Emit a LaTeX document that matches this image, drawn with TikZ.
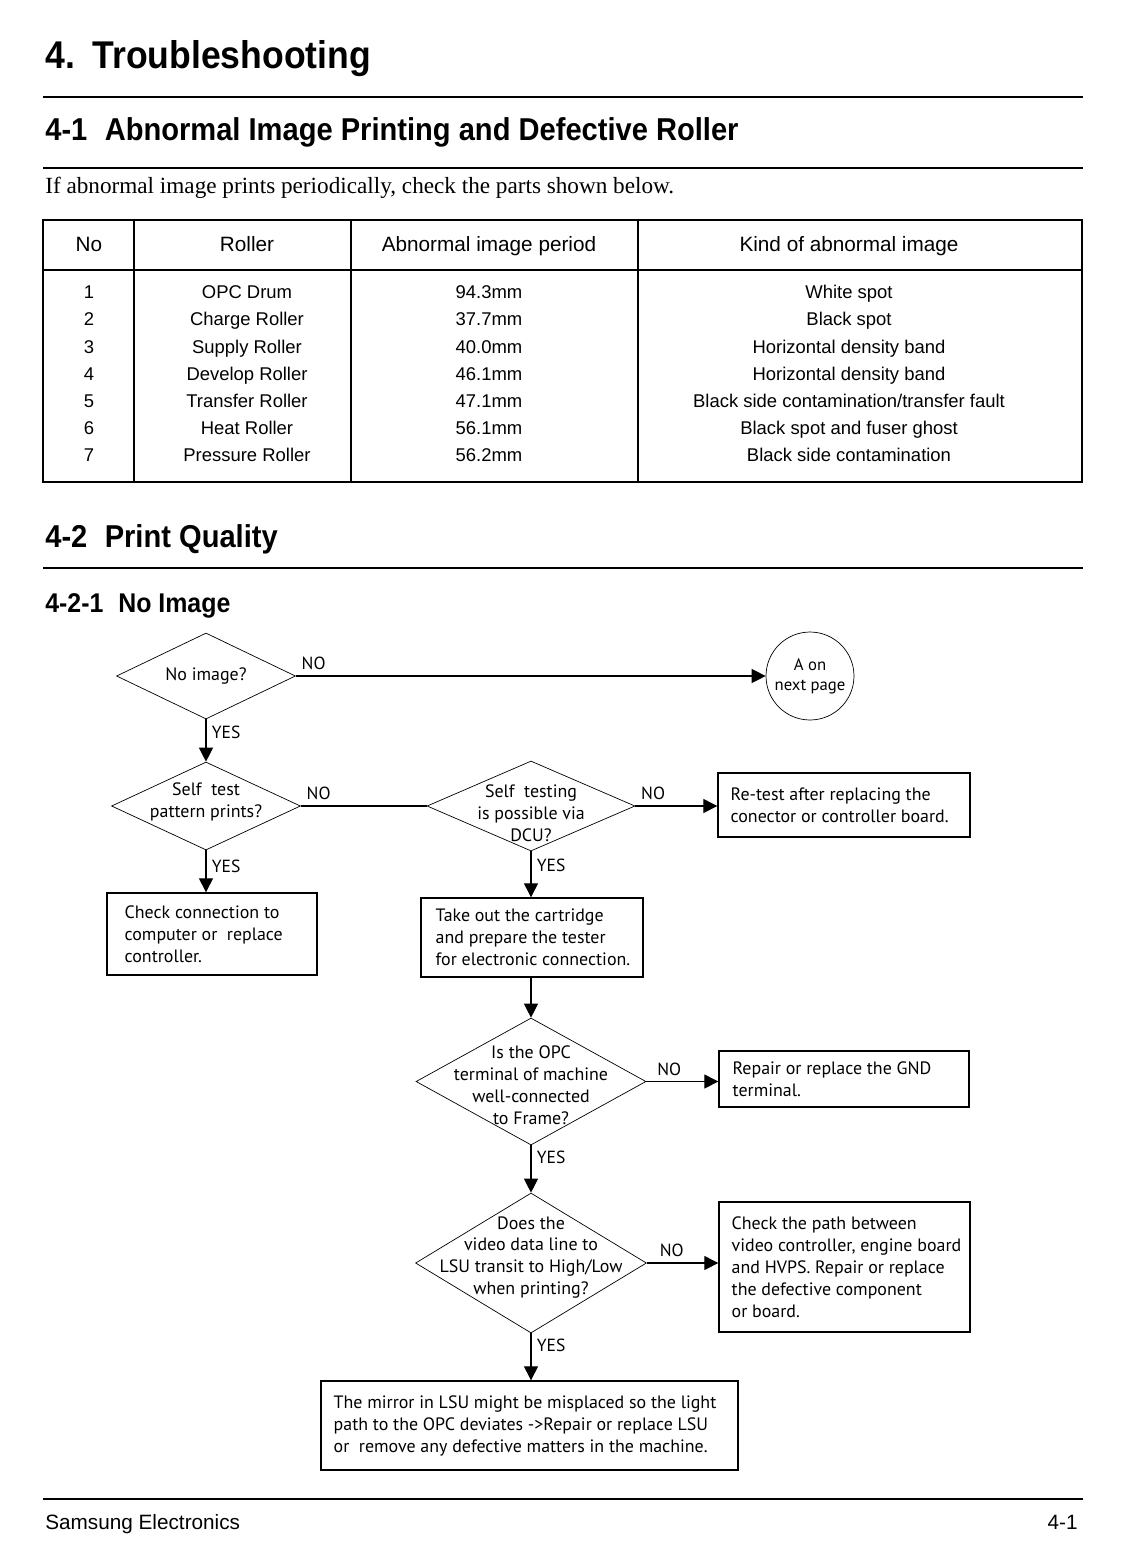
\documentclass[tikz,border=0pt]{standalone}
\usepackage{fontspec}
\setmainfont{Liberation Sans}
\newfontfamily\headfont[FakeStretch=0.92]{Liberation Sans}
\newfontfamily\chartfont{PT Sans}
\newfontfamily\introfont{Liberation Serif}
\usetikzlibrary{arrows.meta}
\usetikzlibrary{shapes.geometric}
\usetikzlibrary{positioning}

\tikzset{
    question/.style={diamond, draw, line width=0.4pt, inner sep=0pt},
    qtext/.style={align=center, inner sep=0pt, font=\chartfont\fontsize{10.2}{12.5}\selectfont},
    action/.style={rectangle, draw, line width=0.8pt, inner sep=0pt},
    atext/.style={anchor=west, align=left, inner sep=0pt, xshift=0.26cm, font=\chartfont\fontsize{10.2}{12.5}\selectfont},
    answer/.style={inner sep=3pt, font=\chartfont\fontsize{10}{11}\selectfont},
    flow/.style={-{Triangle[length=8pt, width=8pt]}, line width=0.7pt},
    cell/.style={anchor=base, font=\fontsize{10.5}{12}\selectfont, inner sep=0pt},
    head/.style={cell, font=\fontsize{11.8}{13}\selectfont},
    rule/.style={line width=1.3pt}
}

\begin{document}
\begin{tikzpicture}[x=0.02cm, y=-0.02cm]
    \useasboundingbox (0, 0) rectangle (1120, 1545);

    % headings
    \node[anchor=base west, inner sep=0pt, font=\headfont\bfseries\fontsize{22}{24}\selectfont] (title) at (45, 68) {4.\hspace{0.45em}Troubleshooting};
    \draw[rule] (43, 97) -- (1083, 97);
    \node[anchor=base west, inner sep=0pt, font=\headfont\bfseries\fontsize{18}{20}\selectfont] (sec1) at (45, 140) {4-1\hspace{0.55em}Abnormal Image Printing and Defective Roller};
    \draw[rule] (43, 168) -- (1083, 168);
    \node[anchor=base west, inner sep=0pt, font=\introfont\fontsize{13.2}{15}\selectfont] (intro) at (45, 193) {If abnormal image prints periodically, check the parts shown below.};

    % roller table
    \draw[line width=0.8pt] (43, 220) rectangle (1082, 482);
    \draw[line width=0.8pt] (43, 270) -- (1082, 270);
    \foreach \x in {134, 351, 638}
        \draw[line width=0.8pt] (\x, 220) -- (\x, 482);
    \node[head] (hno) at (89, 251.5) {No};
    \node[head] (hroller) at (247, 251.5) {Roller};
    \node[head] (hperiod) at (489, 251.5) {Abnormal image period};
    \node[head] (hkind) at (849, 251.5) {Kind of abnormal image};
    \foreach \i/\roller/\period/\kind in {
        1/OPC Drum/94.3mm/White spot,
        2/Charge Roller/37.7mm/Black spot,
        3/Supply Roller/40.0mm/Horizontal density band,
        4/Develop Roller/46.1mm/Horizontal density band,
        5/Transfer Roller/47.1mm/Black side contamination\slash transfer fault,
        6/Heat Roller/56.1mm/Black spot and fuser ghost,
        7/Pressure Roller/56.2mm/Black side contamination} {
        \node[cell] (no\i) at (89, 271.5 + 27.2*\i) {\i};
        \node[cell] (roller\i) at (247, 271.5 + 27.2*\i) {\roller};
        \node[cell] (period\i) at (489, 271.5 + 27.2*\i) {\period};
        \node[cell] (kind\i) at (849, 271.5 + 27.2*\i) {\kind};
    }

    \node[anchor=base west, inner sep=0pt, font=\headfont\bfseries\fontsize{18}{20}\selectfont] (sec2) at (45, 547) {4-2\hspace{0.55em}Print Quality};
    \draw[rule] (43, 568) -- (1083, 568);
    \node[anchor=base west, inner sep=0pt, font=\headfont\bfseries\fontsize{15.4}{17}\selectfont] (sec21) at (45, 612) {4-2-1\hspace{0.55em}No Image};

    % flow chart
    \node[question, minimum width=3.58cm, minimum height=1.72cm,
        label={[qtext]center:{No image?}}] (noimage) at (206, 676) {};
    \node[circle, draw, line width=0.4pt, minimum size=1.76cm, inner sep=0pt, align=center,
        font=\chartfont\fontsize{9.5}{11.3}\selectfont] (nextpage) at (810, 676) {A on\\next page};
    \node[question, minimum width=3.78cm, minimum height=1.76cm,
        label={[qtext, yshift=0.08cm]center:{Self\ \ test\\pattern prints?}}] (selftest) at (206, 806) {};
    \node[question, minimum width=4.16cm, minimum height=1.8cm,
        label={[qtext, yshift=-0.14cm]center:{Self\ \ testing\\is possible via\\DCU?}}] (dcu) at (531, 806) {};
    \node[action, minimum width=5.04cm, minimum height=1.28cm,
        label={[atext]west:{Re-test after replacing the\\conector or controller board.}}] (retest) at (844, 805) {};
    \node[action, minimum width=4.2cm, minimum height=1.64cm,
        label={[atext, xshift=0.1cm]west:{Check connection to\\computer or\ \ replace\\controller.}}] (connection) at (212, 934) {};
    \node[action, minimum width=4.44cm, minimum height=1.58cm,
        label={[atext, xshift=0.04cm]west:{Take out the cartridge\\and prepare the tester\\for electronic connection.}}] (cartridge) at (532, 937.5) {};
    \node[question, minimum width=4.6cm, minimum height=2.54cm,
        label={[qtext, yshift=-0.07cm]center:{Is the OPC\\terminal of machine\\well-connected\\to Frame?}}] (opc) at (531, 1081.5) {};
    \node[action, minimum width=5.0cm, minimum height=1.12cm,
        label={[atext, xshift=0.02cm]west:{Repair or replace the GND\\terminal.}}] (gnd) at (844, 1079) {};
    \node[question, minimum width=4.62cm, minimum height=2.8cm,
        label={[qtext, yshift=0.11cm]center:{Does the\\video data line to\\LSU transit to High/Low\\when printing?}}] (video) at (531, 1263) {};
    \node[action, minimum width=5.02cm, minimum height=2.6cm,
        label={[atext]west:{Check the path between\\video controller, engine board\\and HVPS. Repair or replace\\the defective component\\or board.}}] (path) at (844.5, 1267) {};
    \node[action, minimum width=8.34cm, minimum height=1.78cm,
        label={[atext]west:{The mirror in LSU might be misplaced so the light\\path to the OPC deviates ->Repair or replace LSU\\or\ \ remove any defective matters in the machine.}}] (mirror) at (529.5, 1425.5) {};

    \draw[flow] (noimage.east) -- (nextpage.west) node[answer, pos=0, above right] {NO};
    \draw[flow] (noimage.south) -- (selftest.north) node[answer, pos=0.3, right] {YES};
    \draw[line width=0.7pt] (selftest.east) -- (dcu.west) node[answer, pos=0, above right] {NO};
    \draw[flow] (dcu.east) -- (dcu.east -| retest.west) node[answer, pos=0, above right] {NO};
    \draw[flow] (selftest.south) -- (selftest.south |- connection.north) node[answer, pos=0.37, right] {YES};
    \draw[flow] (dcu.south) -- (dcu.south |- cartridge.north) node[answer, pos=0.31, right] {YES};
    \draw[flow] (cartridge.south -| opc.north) -- (opc.north);
    \draw[flow] (opc.east) -- (opc.east -| gnd.west) node[answer, pos=0.07, above right] {NO};
    \draw[flow] (opc.south) -- (video.north) node[answer, pos=0.25, right] {YES};
    \draw[flow] (video.east) -- (video.east -| path.west) node[answer, pos=0.1, above right] {NO};
    \draw[flow] (video.south) -- (video.south |- mirror.north) node[answer, pos=0.25, right] {YES};

    % footer
    \draw[line width=0.6pt] (43, 1499) -- (1083, 1499);
    \node[anchor=base west, inner sep=0pt, font=\fontsize{11.8}{13}\selectfont] (company) at (45, 1529) {Samsung Electronics};
    \node[anchor=base east, inner sep=0pt, font=\fontsize{11.8}{13}\selectfont] (pageno) at (1078, 1529) {4-1};
\end{tikzpicture}
\end{document}
